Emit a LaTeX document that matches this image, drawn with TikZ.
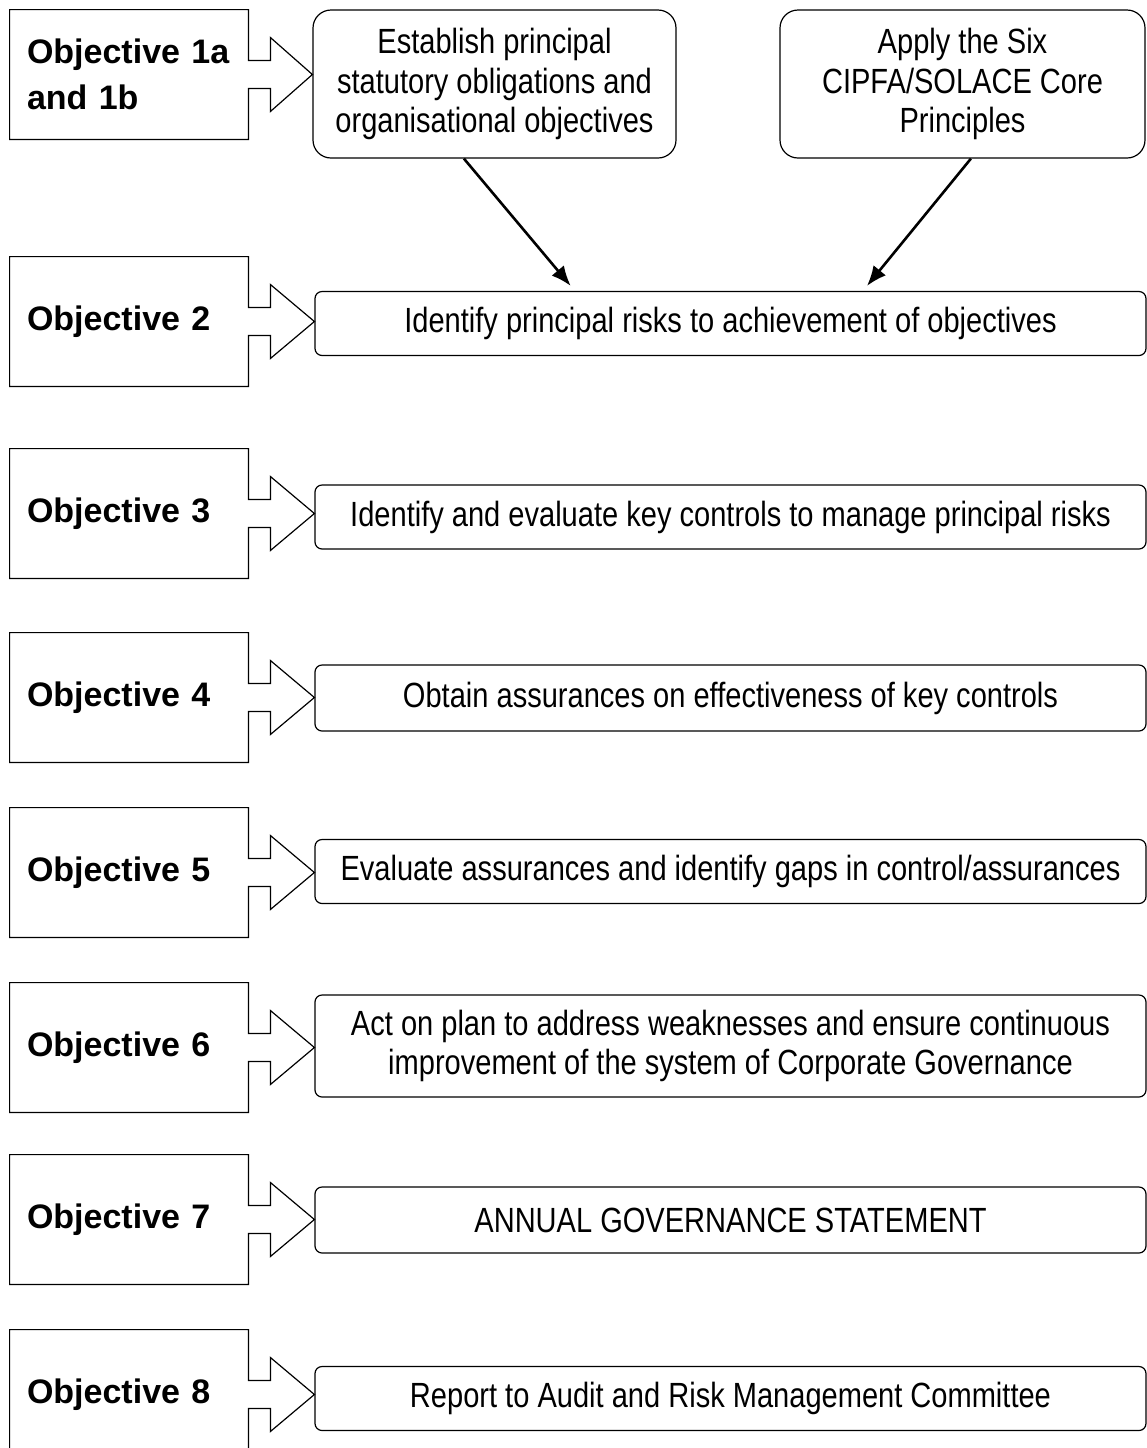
\documentclass[tikz,border=0pt]{standalone}
\usepackage{fontspec}
\setmainfont{Liberation Sans}
\newfontfamily\stepfont[FakeStretch=0.83]{Liberation Sans}
\usetikzlibrary{calc,arrows.meta,positioning}

% objective box with its block arrow towards the step box
\newcommand{\objarrow}[2]{%
  \draw[objline] (#1.north west) -- (#1.north east) -- ($(#1.east)+(0,7pt)$) -- ++(11pt,0)
    -- ++(0,11.5pt) -- (#2.west |- #1.east) -- ($(#1.east)+(11pt,-18.5pt)$) -- ++(0,11.5pt)
    -- ++(-11pt,0) -- (#1.south east) -- (#1.south west) -- cycle;}

\begin{document}
\begin{tikzpicture}[x=0.5pt, y=-0.5pt,
  objbox/.style={inner xsep=8.5pt, inner ysep=0pt, text width=102pt, minimum height=64.5pt, align=left, font=\bfseries\fontsize{17}{23}\selectfont},
  objline/.style={line width=0.6pt},
  stepbox/.style={draw, line width=0.6pt, rounded corners=3.5pt, inner sep=0pt, minimum width=415.5pt, minimum height=32pt, align=center, font=\stepfont\fontsize{17.5}{19.75}\selectfont},
  topbox/.style={stepbox, rounded corners=9pt, minimum height=74pt},
  link/.style={-{Latex[length=10pt,width=8pt]}, line width=1.3pt}]
\useasboundingbox (0,0) rectangle (1147,1448);

\node[objbox] (o1) at (129,74.5) {Objective 1a\\and 1b};
\node[objbox] (o2) at (129,321.5) {Objective 2};
\node[objbox] (o3) at (129,513.5) {Objective 3};
\node[objbox] (o4) at (129,697.5) {Objective 4};
\node[objbox] (o5) at (129,872.5) {Objective 5};
\node[objbox] (o6) at (129,1047.5) {Objective 6};
\node[objbox] (o7) at (129,1219.5) {Objective 7};
\node[objbox] (o8) at (129,1394.5) {Objective 8};

\node[topbox, minimum width=181.5pt] (s1a) at (494.5,84) {Establish principal\\statutory obligations and\\organisational objectives};
\node[topbox, minimum width=182.5pt] (s1b) at (962.5,84) {Apply the Six\\CIPFA/SOLACE Core\\Principles};
\node[stepbox] (s2) at (730.5,323.5) {Identify principal risks to achievement of objectives};
\node[stepbox] (s3) at (730.5,517) {Identify and evaluate key controls to manage principal risks};
\node[stepbox, minimum height=33pt] (s4) at (730.5,698) {Obtain assurances on effectiveness of key controls};
\node[stepbox] (s5) at (730.5,871.5) {Evaluate assurances and identify gaps in control/assurances};
\node[stepbox, minimum height=51pt] (s6) at (730.5,1046) {Act on plan to address weaknesses and ensure continuous\\improvement of the system of Corporate Governance};
\node[stepbox, minimum height=33pt] (s7) at (730.5,1220) {ANNUAL GOVERNANCE STATEMENT};
\node[stepbox] (s8) at (730.5,1398.5) {Report to Audit and Risk Management Committee};

\objarrow{o1}{s1a}
\objarrow{o2}{s2}
\objarrow{o3}{s3}
\objarrow{o4}{s4}
\objarrow{o5}{s5}
\objarrow{o6}{s6}
\objarrow{o7}{s7}
\objarrow{o8}{s8}

\draw[link] ($(s1a.south west)!0.416!(s1a.south east)$) -- ($(s2.north west)!0.308!(s2.north east)+(0,2.5pt)$);
\draw[link] ($(s1b.south west)!0.523!(s1b.south east)$) -- ($(s2.north west)!0.664!(s2.north east)+(0,2.5pt)$);
\end{tikzpicture}
\end{document}
